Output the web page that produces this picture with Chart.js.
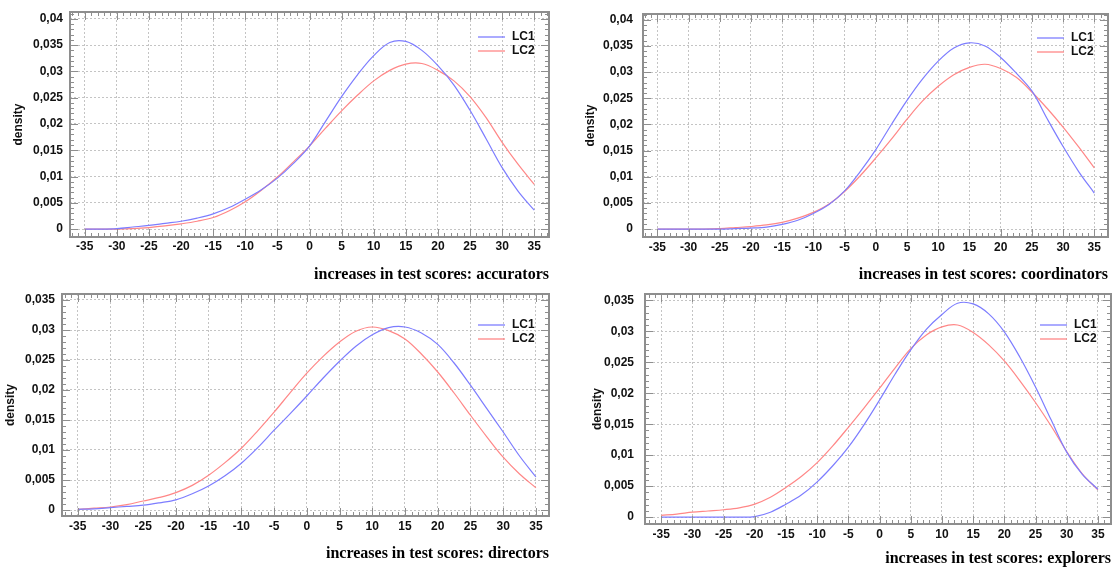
<!DOCTYPE html>
<html>
<head>
<meta charset="utf-8">
<script src="https://cdn.jsdelivr.net/npm/chart.js@4"></script>
<style>
  body { margin: 0; background: #fff; }
  canvas { position: absolute; }
</style>
</head>
<body>
<canvas id="acc" width="557" height="285" style="left:0;top:0;width:557px;height:285px"></canvas>
<canvas id="coo" width="557" height="285" style="left:557px;top:0;width:557px;height:285px"></canvas>
<canvas id="dir" width="557" height="283" style="left:0;top:285px;width:557px;height:283px"></canvas>
<canvas id="exp" width="557" height="283" style="left:557px;top:285px;width:557px;height:283px"></canvas>
<script>
const xs = [-35, -32.5, -30, -27.5, -25, -22.5, -20, -17.5, -15, -12.5, -10, -7.5, -5, -2.5, 0,
            2.5, 5, 7.5, 10, 12.5, 15, 17.5, 20, 22.5, 25, 27.5, 30, 32.5, 35]

// accurators
const accLC1 = [0, 0, 0.0001, 0.0004, 0.0007, 0.0011, 0.0015, 0.0021, 0.0029, 0.0041, 0.0057, 0.0075, 0.0097, 0.0125, 0.0158,
                0.0205, 0.0252, 0.0294, 0.0330, 0.0355, 0.0357, 0.0340, 0.0311, 0.0274, 0.0226, 0.0172, 0.0117, 0.0072, 0.0036]
const accLC2 = [0, 0, 0, 0.0001, 0.0003, 0.0006, 0.0010, 0.0015, 0.0022, 0.0035, 0.0052, 0.0074, 0.0099, 0.0128, 0.0158,
                0.0192, 0.0225, 0.0255, 0.0282, 0.0302, 0.0314, 0.0315, 0.0302, 0.0282, 0.0252, 0.0212, 0.0165, 0.0123, 0.0085]
// coordinators
const cooLC1 = [0, 0, 0, 0, 0, 0.0001, 0.0002, 0.0004, 0.0009, 0.0017, 0.0030, 0.0047, 0.0073, 0.0110, 0.0152,
                0.0200, 0.0246, 0.0287, 0.0321, 0.0346, 0.0356, 0.0350, 0.0328, 0.0298, 0.0264, 0.0210, 0.0158, 0.0110, 0.0069]
const cooLC2 = [0, 0, 0, 0, 0.0001, 0.0003, 0.0005, 0.0008, 0.0013, 0.0021, 0.0032, 0.0048, 0.0072, 0.0102, 0.0136,
                0.0172, 0.0210, 0.0245, 0.0273, 0.0295, 0.0309, 0.0315, 0.0307, 0.0290, 0.0262, 0.0230, 0.0195, 0.0157, 0.0117]
// directors
const dirLC1 = [0.0001, 0.0002, 0.0004, 0.0006, 0.0008, 0.0012, 0.0017, 0.0027, 0.0040, 0.0057, 0.0078, 0.0104, 0.0133, 0.0161, 0.0190,
                0.0220, 0.0248, 0.0273, 0.0292, 0.0304, 0.0305, 0.0295, 0.0276, 0.0245, 0.0208, 0.0169, 0.0130, 0.0090, 0.0055]
const dirLC2 = [0.0001, 0.0003, 0.0005, 0.0009, 0.0015, 0.0021, 0.0029, 0.0041, 0.0058, 0.0079, 0.0103, 0.0132, 0.0163, 0.0196, 0.0228,
                0.0256, 0.0280, 0.0298, 0.0305, 0.0299, 0.0285, 0.0260, 0.0230, 0.0195, 0.0158, 0.0122, 0.0088, 0.0060, 0.0037]
// explorers
const expLC1 = [0, 0, 0, 0, 0, 0, 0.0001, 0.0008, 0.0021, 0.0036, 0.0057, 0.0083, 0.0113, 0.0149, 0.0189,
                0.0231, 0.0270, 0.0303, 0.0327, 0.0345, 0.0344, 0.0328, 0.0299, 0.0258, 0.0210, 0.0157, 0.0105, 0.0069, 0.0045]
const expLC2 = [0.0003, 0.0005, 0.0008, 0.0010, 0.0012, 0.0015, 0.0021, 0.0032, 0.0048, 0.0066, 0.0088, 0.0115, 0.0145, 0.0176, 0.0208,
                0.0241, 0.0272, 0.0294, 0.0307, 0.0310, 0.0298, 0.0278, 0.0252, 0.0220, 0.0185, 0.0147, 0.0106, 0.0070, 0.0044]

const seriesNames = ["LC1", "LC2"]
const xTicks = [-35, -30, -25, -20, -15, -10, -5, 0, 5, 10, 15, 20, 25, 30, 35]
const xTickLabels = ["-35", "-30", "-25", "-20", "-15", "-10", "-5", "0", "5", "10", "15", "20", "25", "30", "35"]
const yTicks40 = [0, 0.005, 0.01, 0.015, 0.02, 0.025, 0.03, 0.035, 0.04]
const yTickLabels40 = ["0", "0,005", "0,01", "0,015", "0,02", "0,025", "0,03", "0,035", "0,04"]
const yTicks35 = [0, 0.005, 0.01, 0.015, 0.02, 0.025, 0.03, 0.035]
const yTickLabels35 = ["0", "0,005", "0,01", "0,015", "0,02", "0,025", "0,03", "0,035"]

const colors = ["rgb(125,125,255)", "rgb(255,135,135)"]
const frameColor = "#8e8e8e"
const tickFont = { family: "'Liberation Sans', Arial, sans-serif", size: 12, weight: "bold" }

// frame, inward ticks and the legend are drawn on top of the chart area
const framePlugin = {
    id: "frame",
    afterDraw(chart, args, opts) {
        const { ctx, chartArea: a, scales } = chart
        const x = scales.x, y = scales.y
        ctx.save()
        ctx.strokeStyle = frameColor
        ctx.lineWidth = 1
        ctx.beginPath()
        for (let v = Math.ceil(x.min); v <= Math.floor(x.max); v++) {
            const len = (v % 5 === 0) ? 8 : 4
            const px = Math.round(x.getPixelForValue(v)) + 0.5
            ctx.moveTo(px, a.bottom); ctx.lineTo(px, a.bottom - len)
            ctx.moveTo(px, a.top); ctx.lineTo(px, a.top + len)
        }
        for (let k = 0; k * 0.001 <= y.max; k++) {
            const len = (k % 5 === 0) ? 8 : 4
            const py = Math.round(y.getPixelForValue(k * 0.001)) + 0.5
            ctx.moveTo(a.left, py); ctx.lineTo(a.left + len, py)
            ctx.moveTo(a.right, py); ctx.lineTo(a.right - len, py)
        }
        ctx.stroke()
        ctx.lineWidth = 2
        ctx.strokeRect(a.left, a.top, a.right - a.left, a.bottom - a.top)

        // legend
        ctx.font = "bold 12px 'Liberation Sans', Arial, sans-serif"
        ctx.textBaseline = "middle"
        ctx.fillStyle = "#111"
        chart.data.datasets.forEach((ds, i) => {
            const ly = a.top + opts.legendTop + i * 14
            ctx.strokeStyle = ds.borderColor
            ctx.lineWidth = 1.3
            ctx.beginPath()
            ctx.moveTo(a.right - 71, ly); ctx.lineTo(a.right - 44, ly)
            ctx.stroke()
            ctx.fillText(ds.label, a.right - 37, ly)
        })
        ctx.restore()
    }
}

function makePanel(p) {
    const datasets = [p.lc1, p.lc2].map((vals, i) => ({
        label: seriesNames[i],
        data: xs.map((xv, j) => ({ x: xv, y: vals[j] })),
        borderColor: colors[i],
        borderWidth: 1.2,
        pointRadius: 0,
        tension: 0.35,
        fill: false
    }))

    new Chart(document.getElementById(p.id), {
        type: "line",
        data: { datasets: datasets },
        plugins: [framePlugin],
        options: {
            responsive: false,
            animation: false,
            devicePixelRatio: 1,
            layout: { padding: { top: p.padTop, right: p.padRight, left: 0, bottom: 0 } },
            plugins: {
                legend: { display: false },
                tooltip: { enabled: false },
                frame: { legendTop: p.legendTop }
            },
            scales: {
                x: {
                    type: "linear",
                    min: p.xMin,
                    max: p.xMax,
                    afterBuildTicks: (s) => { s.ticks = xTicks.map(v => ({ value: v })) },
                    afterFit: (s) => {
                        s.height = p.xHeight
                        s.paddingLeft = 0; s.paddingRight = 0; s.paddingTop = 0; s.paddingBottom = 0
                    },
                    grid: { color: "#c4c4c4", lineWidth: 1, drawTicks: false },
                    border: { display: false, dash: [2, 2] },
                    ticks: {
                        autoSkip: false, maxRotation: 0, padding: p.xLabelPad,
                        color: "#111", font: tickFont,
                        callback: (v, i) => xTickLabels[i]
                    },
                    title: {
                        display: true, text: p.title, align: "end", color: "#000",
                        padding: { top: 0, bottom: p.titlePad },
                        font: { family: "'Liberation Serif', 'Times New Roman', serif", size: 16, weight: "bold", lineHeight: 1.2 }
                    }
                },
                y: {
                    type: "linear",
                    min: p.yMin,
                    max: p.yMax,
                    afterBuildTicks: (s) => { s.ticks = p.yTicks.map(v => ({ value: v })) },
                    afterFit: (s) => {
                        s.width = p.yWidth
                        s.paddingLeft = 0; s.paddingRight = 0; s.paddingTop = 0; s.paddingBottom = 0
                    },
                    grid: { color: "#c4c4c4", lineWidth: 1, drawTicks: false },
                    border: { display: false, dash: [2, 2] },
                    ticks: {
                        padding: p.yLabelPad, color: "#111", font: tickFont,
                        callback: (v, i) => p.yLabels[i]
                    },
                    title: {
                        display: true, text: "density", color: "#111",
                        padding: { top: p.densityPad, bottom: 0 },
                        font: { family: "'Liberation Sans', Arial, sans-serif", size: 12, weight: "bold", lineHeight: 1.2 }
                    }
                }
            }
        }
    })
}

makePanel({ id: "acc", title: "increases in test scores: accurators", lc1: accLC1, lc2: accLC2,
    yTicks: yTicks40, yLabels: yTickLabels40, xMin: -37.3, xMax: 37.3, yMin: -0.0015, yMax: 0.0413,
    padTop: 12, padRight: 8, yWidth: 70, xHeight: 48, xLabelPad: 2, yLabelPad: 7, densityPad: 11, titlePad: 1, legendTop: 25 })

makePanel({ id: "coo", title: "increases in test scores: coordinators", lc1: cooLC1, lc2: cooLC2,
    yTicks: yTicks40, yLabels: yTickLabels40, xMin: -37.3, xMax: 37.2, yMin: -0.0015, yMax: 0.0411,
    padTop: 14, padRight: 6, yWidth: 86, xHeight: 48, xLabelPad: 3, yLabelPad: 10, densityPad: 26, titlePad: 1, legendTop: 24 })

makePanel({ id: "dir", title: "increases in test scores: directors", lc1: dirLC1, lc2: dirLC2,
    yTicks: yTicks35, yLabels: yTickLabels35, xMin: -37.4, xMax: 37.0, yMin: -0.001, yMax: 0.036,
    padTop: 9, padRight: 8, yWidth: 62, xHeight: 52, xLabelPad: 3, yLabelPad: 7, densityPad: 3, titlePad: 5, legendTop: 31 })

makePanel({ id: "exp", title: "increases in test scores: explorers", lc1: expLC1, lc2: expLC2,
    yTicks: yTicks35, yLabels: yTickLabels35, xMin: -37.6, xMax: 37.1, yMin: -0.0011, yMax: 0.036,
    padTop: 9, padRight: 3, yWidth: 88, xHeight: 44, xLabelPad: 3, yLabelPad: 11, densityPad: 33, titlePad: 0, legendTop: 31 })
</script>
</body>
</html>
